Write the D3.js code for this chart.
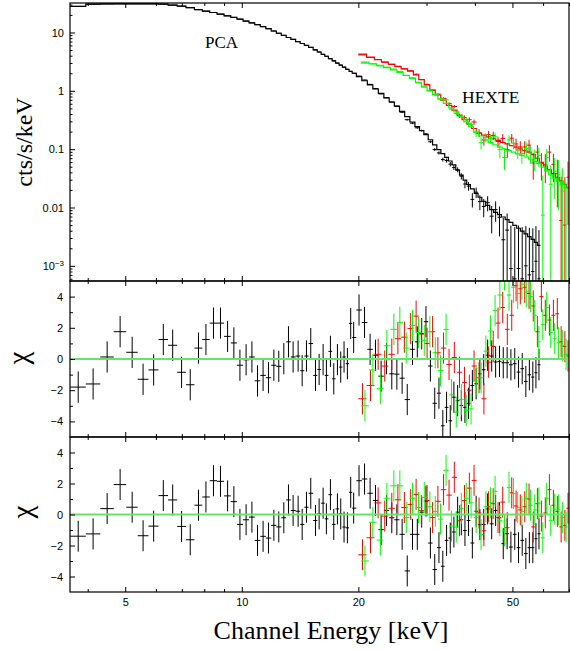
<!DOCTYPE html>
<html>
<head>
<meta charset="utf-8">
<script src="https://cdn.jsdelivr.net/npm/d3@7"></script>
<style>
  body { margin: 0; background: #fff; }
  .axis text { font-family: "Liberation Sans", Arial, Helvetica, sans-serif; font-size: 11px; fill: #000; }
  .axis line { stroke: #000; }
  .title { font-family: "Liberation Serif", "Times New Roman", serif; fill: #000; }
</style>
</head>
<body>
<div id="vis"></div>
<script>
// ---- PCA (black) ----
var pcaEnergy = [3.78, 4.13, 4.49, 4.85, 5.21, 5.56, 5.92, 6.27, 6.63, 6.99,
    7.36, 7.73, 8.08, 8.45, 8.81, 9.19, 9.54, 9.89, 10.26, 10.62,
    10.98, 11.35, 11.72, 12.10, 12.46, 12.84, 13.20, 13.57, 13.98, 14.32,
    14.69, 15.07, 15.50, 15.84, 16.22, 16.54, 16.94, 17.28, 17.66, 18.01,
    18.37, 18.74, 19.11, 19.45, 20.08, 20.75, 21.45, 22.15, 22.9, 23.65,
    24.4, 25.15, 25.95, 26.75, 27.6, 28.4, 29.15, 29.9, 30.7, 31.5,
    32.3, 33.05, 33.8, 34.55, 35.3, 36.1, 36.9, 37.7, 38.5, 39.4,
    40.3, 41.2, 42.15, 43.15, 44.2, 45.25, 46.3, 47.35, 48.45, 49.55,
    50.7, 51.85, 53.0, 54.15, 55.3, 56.45, 57.5, 58.55];
var pcaModel = [28.0, 30.5, 30.8, 31.0, 31.0, 31.0, 31.0, 30.6, 29.5, 28.2,
    26.6, 24.6, 23.2, 22.0, 20.6, 19.3, 18.1, 16.9, 15.7, 14.6,
    13.6, 12.6, 11.6, 10.6, 9.7, 8.9, 8.2, 7.62, 6.97, 6.47,
    5.99, 5.55, 5.03, 4.63, 4.22, 3.91, 3.55, 3.27, 2.99, 2.75,
    2.54, 2.34, 2.15, 2.0, 1.745, 1.488, 1.266, 1.075, 0.901, 0.759,
    0.643, 0.547, 0.4445, 0.360, 0.292, 0.244, 0.2074, 0.1768, 0.1449, 0.1189,
    0.098, 0.0839, 0.0724, 0.0627, 0.0536, 0.0437, 0.0358, 0.0294, 0.0248, 0.0208,
    0.01753, 0.01498, 0.01273, 0.01086, 0.00923, 0.00828, 0.00754, 0.00688, 0.00622, 0.00555,
    0.00494, 0.00441, 0.00395, 0.00354, 0.00318, 0.00285, 0.00252, 0.00224];
var pcaRate = [28.0, 30.5, 30.8, 31.0, 31.0, 31.0, 31.0, 30.6, 29.5, 28.2,
    26.6, 24.6, 23.2, 22.0, 20.6, 19.3, 18.1, 16.9, 15.7, 14.6,
    13.6, 12.6, 11.6, 10.6, 9.7, 8.9, 8.2, 7.62, 6.97, 6.47,
    5.99, 5.55, 5.03, 4.63, 4.22, 3.91, 3.55, 3.27, 2.99, 2.75,
    2.54, 2.34, 2.15, 2.0, 1.789, 1.532, 1.291, 1.090, 0.885, 0.763,
    0.640, 0.543, 0.429, 0.320, 0.279, 0.2325, 0.2085, 0.1824, 0.134, 0.0983,
    0.0862, 0.0665, 0.064, 0.0554, 0.0484, 0.0444, 0.0344, 0.0253, 0.0233, 0.0138,
    0.0183, 0.0126, 0.0104, 0.0121, 0.0071, 0.0092, 0.0068, 0.0028, 0.0041, 0.0009,
    0.0006, 0.0009, 0.0006, 0.0010, 0.0007, 0.0008, 0.0012, 0.0006];
var pcaErr = [0.15, 0.15, 0.15, 0.15, 0.15, 0.15, 0.15, 0.15, 0.15, 0.15,
    0.1, 0.1, 0.1, 0.1, 0.1, 0.1, 0.1, 0.1, 0.06, 0.06,
    0.06, 0.06, 0.06, 0.06, 0.06, 0.06, 0.06, 0.06, 0.06, 0.06,
    0.06, 0.06, 0.03, 0.03, 0.03, 0.03, 0.03, 0.03, 0.03, 0.03,
    0.03, 0.03, 0.03, 0.03, 0.02, 0.019, 0.018, 0.017, 0.016, 0.015,
    0.014, 0.013, 0.012, 0.011, 0.01, 0.009, 0.0075, 0.0065, 0.006, 0.0058,
    0.0055, 0.0052, 0.005, 0.0048, 0.0046, 0.0044, 0.0042, 0.004, 0.0039, 0.0038,
    0.0037, 0.0036, 0.0036, 0.0035, 0.0035, 0.0035, 0.0036, 0.0038, 0.0038, 0.004,
    0.004, 0.004, 0.004, 0.0038, 0.0038, 0.0036, 0.0036, 0.0035];
// residuals, first model (middle panel) and second model (bottom panel)
var pcaChiA = [-1.8, -1.6, 0.13, 1.75, 0.43, -1.3, -0.7, 1.25, 0.88, -0.85,
    -1.65, 0.7, 1.25, 2.3, 2.3, 1.45, 1.03, -0.4, -0.05, 0.13,
    -1.4, -1.05, -1.2, -0.4, -0.47, 0.02, 1.1, 0.13, 0.19, -0.75,
    0.19, 0.99, -1.05, -0.67, -0.04, -1.05, 0.49, -1.27, -0.04, -0.52,
    0.13, -0.3, 2.28, 1.38, 3.14, 2.34, 0.62, 0.24, -1.1, 0.02,
    -0.95, -0.97, -1.23, -2.6, 0.62, 1.1, 1.63, 2.39, -0.45, -2.84,
    -2.19, -4.28, -3.1, -3.96, -2.45, -2.67, -2.99, -3.1, -2.84, -1.7,
    -1.59, -0.95, -0.69, 0.24, 0.19, -0.19, -0.15, -0.24, -0.24, -0.37,
    -0.3, -0.84, -0.62, -1.44, -1.01, -1.16, -0.88, -0.37];
var pcaChiB = [-1.4, -1.25, 0.38, 1.93, 0.47, -1.37, -0.75, 1.22, 0.94, -0.77,
    -1.63, 0.6, 1.13, 2.18, 2.14, 1.2, 0.83, -0.64, -0.34, -0.17,
    -1.67, -1.41, -1.52, -0.7, -0.8, -0.21, 0.94, 0.26, 0.21, -0.64,
    0.47, 1.37, -0.39, 0.04, 0.73, -0.28, 1.28, -0.64, 0.36, 0.04,
    -0.81, -0.86, 1.43, 0.41, 2.18, 2.29, 1.37, 0.9, -0.98, 0.26,
    -0.21, -0.34, -1.28, -3.64, -1.28, -1.28, 0.15, 0.86, -1.84, -3.55,
    -2.14, -3.34, -1.67, -1.52, -1.13, 0.15, -0.34, -1.03, -0.39, -1.84,
    0.21, -0.66, -0.64, 0.36, -0.6, 0.26, -0.21, -1.88, -1.24, -2.1,
    -1.28, -2.14, -1.67, -2.52, -2.14, -2.14, -1.56, -1.24];

// ---- HEXTE cluster A (red) ----
var hexAEnergy = [20.5, 21.5, 22.5, 23.4, 24.4, 25.3, 26.3, 27.3, 28.2, 29.1,
    30.1, 31.1, 32.1, 33.2, 34.3, 35.4, 36.5, 37.6, 38.7, 39.8,
    41.0, 42.2, 43.4, 44.6, 45.9, 47.2, 48.5, 49.8, 51.1, 52.4,
    53.8, 55.2, 56.6, 58.0, 59.4, 60.8, 62.3, 63.8, 65.3, 66.8,
    68.3, 69.6];
var hexAModel = [4.24, 3.79, 3.41, 3.11, 2.83, 2.60, 2.37, 2.18, 1.88, 1.55,
    1.26, 1.03, 0.848, 0.689, 0.564, 0.465, 0.385, 0.321, 0.269, 0.226,
    0.188, 0.174, 0.162, 0.151, 0.141, 0.131, 0.123, 0.115, 0.108, 0.101,
    0.0946, 0.0887, 0.0809, 0.0693, 0.0597, 0.0515, 0.0442, 0.0381, 0.0329, 0.0285,
    0.0248, 0.0220];
var hexARate = [4.12, 3.72, 3.44, 3.11, 2.85, 2.64, 2.39, 2.21, 1.93, 1.56,
    1.29, 1.02, 0.877, 0.742, 0.604, 0.539, 0.373, 0.348, 0.32, 0.292,
    0.191, 0.144, 0.177, 0.171, 0.135, 0.153, 0.099, 0.154, 0.123, 0.109,
    0.109, 0.117, 0.058, 0.089, 0.057, 0.054, 0.089, 0.055, 0.038, 0.006,
    0.005, 0.033];
var hexAErr = [0.045, 0.045, 0.044, 0.043, 0.042, 0.041, 0.04, 0.039, 0.038, 0.037,
    0.036, 0.035, 0.034, 0.033, 0.032, 0.031, 0.031, 0.03, 0.03, 0.03,
    0.03, 0.029, 0.029, 0.029, 0.028, 0.028, 0.028, 0.028, 0.028, 0.028,
    0.028, 0.028, 0.028, 0.028, 0.028, 0.028, 0.028, 0.028, 0.028, 0.028,
    0.028, 0.028];
var hexAChiA = [-2.55, -1.7, 0.3, -0.45, 0.3, 1.3, 1.4, 1.95, 2.75, 1.6,
    1.0, 1.75, 0.4, 0.7, -0.35, 0.1, -0.85, -1.5, -2.0, -0.45,
    -1.2, -2.55, -0.2, 0.8, 2.3, 3.3, 1.9, 2.8, 4.7, 4.5,
    4.6, 4.2, 3.4, 1.75, 4.0, 2.8, 2.5, 2.8, 2.9, 1.1,
    0.8, 0.2];
var hexAChiB = [-2.6, -1.5, 0.75, -0.1, 0.4, 0.95, 0.45, 0.65, 1.3, 0.25,
    0.9, -0.2, 0.85, 1.6, 1.25, 2.4, -0.4, 0.9, 1.7, 2.2,
    0.1, -1.05, 0.5, 0.7, -0.2, 0.8, -0.85, 1.4, 0.55, 0.3,
    0.5, 1.0, -0.8, 0.7, -0.1, 0.1, 1.6, 0.6, 0.2, -0.8,
    -0.7, 0.4];

// ---- HEXTE cluster B (green) ----
var hexBEnergy = [20.8, 21.8, 22.8, 23.7, 24.7, 25.6, 26.6, 27.6, 28.6, 29.6,
    30.6, 31.6, 32.6, 33.7, 34.8, 35.8, 36.9, 38.0, 39.1, 40.3,
    41.5, 42.7, 43.9, 45.1, 46.4, 47.7, 49.0, 50.3, 51.6, 52.9,
    54.3, 55.7, 57.1, 58.5, 59.9, 61.3, 62.8, 64.3, 65.8, 67.3,
    68.8];
var hexBModel = [3.11, 2.91, 2.74, 2.50, 2.28, 2.07, 1.84, 1.63, 1.38, 1.16,
    0.993, 0.861, 0.73, 0.607, 0.509, 0.435, 0.356, 0.293, 0.242, 0.198,
    0.168, 0.144, 0.130, 0.119, 0.109, 0.101, 0.0946, 0.0893, 0.0833, 0.0782,
    0.0734, 0.0672, 0.062, 0.057, 0.0494, 0.0424, 0.0364, 0.032, 0.0282, 0.0246,
    0.0215];
var hexBRate = [2.98, 2.89, 2.67, 2.55, 2.36, 2.15, 1.83, 1.67, 1.40, 1.20,
    1.01, 0.868, 0.72, 0.701, 0.485, 0.41, 0.368, 0.325, 0.265, 0.192,
    0.129, 0.159, 0.152, 0.163, 0.098, 0.072, 0.144, 0.127, 0.096, 0.084,
    0.103, 0.084, 0.070, 0.078, 0.0074, 0.072, 0.025, 0.042, 0.037, 0.019,
    -0.001];
var hexBErr = [0.045, 0.045, 0.044, 0.043, 0.042, 0.041, 0.04, 0.039, 0.038, 0.037,
    0.036, 0.035, 0.034, 0.033, 0.032, 0.031, 0.031, 0.03, 0.03, 0.03,
    0.03, 0.029, 0.029, 0.029, 0.028, 0.028, 0.028, 0.028, 0.028, 0.028,
    0.028, 0.028, 0.028, 0.028, 0.028, 0.028, 0.028, 0.028, 0.028, 0.028,
    0.028];
var hexBChiA = [-3.0, -0.7, -1.9, 0.85, 1.9, 2.35, 0.7, 2.15, 1.7, 1.2,
    1.75, 0.4, -0.75, 1.9, -2.3, -3.4, -2.6, -3.3, -3.2, -1.4,
    -1.2, 0.5, 1.8, 3.1, 4.1, 5.4, 4.1, 4.6, 4.2, 4.8,
    4.3, 4.0, 2.8, 1.1, 2.2, 3.3, 1.7, 1.3, 1.05, 0.85,
    0.3];
var hexBChiB = [-3.0, -0.5, -1.65, 1.05, 1.85, 1.85, -0.2, 1.05, 0.45, 1.1,
    0.5, 0.2, -0.3, 2.85, -0.75, -0.8, 0.4, 1.05, 0.75, -0.2,
    -1.3, 0.5, 0.75, 1.5, -0.4, -1.05, 1.75, 1.35, 0.45, 0.2,
    1.05, 0.6, 0.3, 0.75, -1.5, 1.05, -0.4, 0.35, 0.3, -0.2,
    -0.8];

// ---- ticks ----
var xTickValues = [5, 10, 20, 50];
var rateTickValues = [1e-3, 0.01, 0.1, 1, 10];
var chiTickValues = [-4, -2, 0, 2, 4];
var chiMinorTicks = [-3, -1, 1, 3];

var colors = { pca: '#000000', hexA: '#ff0000', hexB: '#00ff00', zero: '#66e466' };

// ---- layout ----
var left = 70, right = 569;
var topPanel = [3, 281], midPanel = [281, 437], botPanel = [437, 592];

var svg = d3.select('#vis')
    .append('svg')
    .attr('width', 570)
    .attr('height', 650);

var xScale = d3.scaleLog().domain([3.6, 70]).range([left, right]);
var yRate = d3.scaleLog().domain([5.5e-4, 32]).range([topPanel[1], topPanel[0]]);
var yMid = d3.scaleLinear().domain([-5, 5]).range([midPanel[1], midPanel[0]]);
var yBot = d3.scaleLinear().domain([-5, 5]).range([botPanel[1], botPanel[0]]);

var xMinor = xScale.ticks().filter(function (d) { return xTickValues.indexOf(d) < 0; });
var rateMinor = yRate.ticks().filter(function (d) {
    return rateTickValues.every(function (t) { return Math.abs(t - d) / t > 1e-6; });
});

// bin edges halfway between neighbouring channel centres
function binEdges(centers) {
    var n = centers.length;
    return centers.map(function (c, i) {
        var prev = i > 0 ? centers[i - 1] : c - (centers[1] - centers[0]);
        var next = i < n - 1 ? centers[i + 1] : c + (c - centers[n - 2]);
        return [(prev + c) / 2, (c + next) / 2];
    });
}

var defs = svg.append('defs');
function panelGroup(id, range) {
    defs.append('clipPath').attr('id', id)
        .append('rect')
        .attr('x', left).attr('y', range[0])
        .attr('width', right - left).attr('height', range[1] - range[0]);
    return svg.append('g').attr('clip-path', 'url(#' + id + ')');
}

var gTop = panelGroup('clipTop', topPanel);
var gMid = panelGroup('clipMid', midPanel);
var gBot = panelGroup('clipBot', botPanel);

/* ****** spectrum panel ****** */
function drawSpectrum(g, energy, model, rate, err, color) {
    var edges = binEdges(energy);
    var steps = energy.map(function (e, i) { return [edges[i][0], model[i]]; });
    steps.push([edges[energy.length - 1][1], model[model.length - 1]]);

    var line = d3.line()
        .x(function (d) { return xScale(d[0]); })
        .y(function (d) { return yRate(d[1]); })
        .curve(d3.curveStepAfter);

    g.append('path')
        .datum(steps)
        .attr('d', line)
        .attr('fill', 'none')
        .attr('stroke', color)
        .attr('stroke-width', 1.2);

    var floor = yRate.domain()[0] / 2;
    var pts = energy.map(function (e, i) {
        return { e: e, lo: edges[i][0], hi: edges[i][1], v: rate[i], err: err[i] };
    });
    var cross = g.append('g').attr('stroke', color).attr('stroke-width', 1);

    cross.selectAll('.h')
        .data(pts.filter(function (d) { return d.v > floor; }))
        .enter().append('line')
        .attr('class', 'h')
        .attr('x1', function (d) { return xScale(d.lo); })
        .attr('x2', function (d) { return xScale(d.hi); })
        .attr('y1', function (d) { return yRate(d.v); })
        .attr('y2', function (d) { return yRate(d.v); });

    cross.selectAll('.v')
        .data(pts.filter(function (d) { return d.v + d.err > floor; }))
        .enter().append('line')
        .attr('class', 'v')
        .attr('x1', function (d) { return xScale(d.e); })
        .attr('x2', function (d) { return xScale(d.e); })
        .attr('y1', function (d) { return yRate(Math.max(d.v - d.err, floor)); })
        .attr('y2', function (d) { return yRate(d.v + d.err); });
}

/* ****** residual panels ****** */
function drawResiduals(g, yScale, energy, chi, color) {
    var edges = binEdges(energy);
    var pts = energy.map(function (e, i) {
        return { e: e, lo: edges[i][0], hi: edges[i][1], chi: chi[i] };
    });
    var cross = g.append('g').attr('stroke', color).attr('stroke-width', 1);

    cross.selectAll('.h').data(pts).enter().append('line')
        .attr('x1', function (d) { return xScale(d.lo); })
        .attr('x2', function (d) { return xScale(d.hi); })
        .attr('y1', function (d) { return yScale(d.chi); })
        .attr('y2', function (d) { return yScale(d.chi); });

    cross.selectAll('.v').data(pts).enter().append('line')
        .attr('x1', function (d) { return xScale(d.e); })
        .attr('x2', function (d) { return xScale(d.e); })
        .attr('y1', function (d) { return yScale(d.chi - 1); })
        .attr('y2', function (d) { return yScale(d.chi + 1); });
}

function zeroLine(g, yScale) {
    g.append('line')
        .attr('x1', left).attr('x2', right)
        .attr('y1', yScale(0)).attr('y2', yScale(0))
        .attr('stroke', colors.zero)
        .attr('stroke-width', 2);
}

drawSpectrum(gTop, pcaEnergy, pcaModel, pcaRate, pcaErr, colors.pca);
drawSpectrum(gTop, hexAEnergy, hexAModel, hexARate, hexAErr, colors.hexA);
drawSpectrum(gTop, hexBEnergy, hexBModel, hexBRate, hexBErr, colors.hexB);

drawResiduals(gMid, yMid, pcaEnergy, pcaChiA, colors.pca);
drawResiduals(gMid, yMid, hexAEnergy, hexAChiA, colors.hexA);
drawResiduals(gMid, yMid, hexBEnergy, hexBChiA, colors.hexB);
zeroLine(gMid, yMid);

drawResiduals(gBot, yBot, pcaEnergy, pcaChiB, colors.pca);
drawResiduals(gBot, yBot, hexAEnergy, hexAChiB, colors.hexA);
drawResiduals(gBot, yBot, hexBEnergy, hexBChiB, colors.hexB);
zeroLine(gBot, yBot);

/* ****** axes ****** */
function addAxis(axis, tx, ty) {
    var a = svg.append('g')
        .attr('class', 'axis')
        .attr('transform', 'translate(' + tx + ',' + ty + ')')
        .call(axis);
    a.select('.domain').remove();
    return a;
}

[topPanel, midPanel, botPanel].forEach(function (p, i) {
    var labelled = i === 2;
    addAxis(d3.axisBottom(xScale).tickValues(xTickValues).tickSize(-5).tickPadding(6)
        .tickFormat(labelled ? d3.format('d') : ''), 0, p[1]);
    addAxis(d3.axisBottom(xScale).tickValues(xMinor).tickSize(-3).tickFormat(''), 0, p[1]);
    addAxis(d3.axisTop(xScale).tickValues(xTickValues).tickSize(-5).tickFormat(''), 0, p[0]);
    addAxis(d3.axisTop(xScale).tickValues(xMinor).tickSize(-3).tickFormat(''), 0, p[0]);
});

var rateAxis = addAxis(d3.axisLeft(yRate).tickValues(rateTickValues).tickSize(-5).tickPadding(6)
    .tickFormat(function (d) { return d >= 1 ? d3.format('d')(d) : String(d); }), left, 0);
addAxis(d3.axisLeft(yRate).tickValues(rateMinor).tickSize(-2.5).tickFormat(''), left, 0);

rateAxis.selectAll('text')
    .filter(function (d) { return d < 0.005; })
    .text(null)
    .call(function (t) {
        t.append('tspan').text('10');
        t.append('tspan').attr('dy', '-0.45em').attr('font-size', '8px').text('\u22123');
    });

[[yMid, midPanel], [yBot, botPanel]].forEach(function (pair) {
    addAxis(d3.axisLeft(pair[0]).tickValues(chiTickValues).tickSize(-5).tickPadding(7)
        .tickFormat(function (d) { return d < 0 ? '\u2212' + Math.abs(d) : String(d); }), left, 0);
    addAxis(d3.axisLeft(pair[0]).tickValues(chiMinorTicks).tickSize(-3).tickFormat(''), left, 0);
});

// panel frames
[topPanel, midPanel, botPanel].forEach(function (p) {
    svg.append('rect')
        .attr('x', left).attr('y', p[0])
        .attr('width', right - left).attr('height', p[1] - p[0])
        .attr('fill', 'none')
        .attr('stroke', '#000')
        .attr('stroke-width', 1.2);
});

/* ****** titles ****** */
svg.append('text')
    .attr('class', 'title')
    .attr('transform', 'translate(32,142) rotate(-90)')
    .attr('text-anchor', 'middle')
    .attr('font-size', 24)
    .text('cts/s/keV');

svg.append('text')
    .attr('class', 'title')
    .attr('transform', 'translate(28,358) rotate(-90)')
    .attr('text-anchor', 'middle')
    .attr('font-size', 29)
    .text('\u03c7');

svg.append('text')
    .attr('class', 'title')
    .attr('transform', 'translate(32,512) rotate(-90)')
    .attr('text-anchor', 'middle')
    .attr('font-size', 29)
    .text('\u03c7');

svg.append('text')
    .attr('class', 'title')
    .attr('x', 331).attr('y', 639)
    .attr('text-anchor', 'middle')
    .attr('font-size', 26)
    .text('Channel Energy [keV]');

svg.append('text')
    .attr('class', 'title')
    .attr('x', 205).attr('y', 48)
    .attr('font-size', 17)
    .text('PCA');

svg.append('text')
    .attr('class', 'title')
    .attr('x', 462).attr('y', 103)
    .attr('font-size', 17.5)
    .text('HEXTE');
</script>
</body>
</html>
